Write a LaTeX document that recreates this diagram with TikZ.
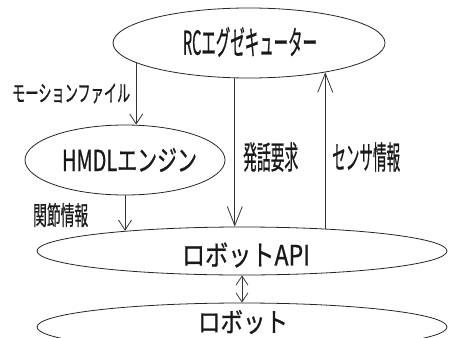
\documentclass[tikz,border=0pt]{standalone}
\usepackage{fontspec}
\usepackage{graphicx}
\newfontfamily\jp[FakeBold=0.8]{Noto Sans CJK JP}
\newcommand\fitw[3]{{\jp\fontsize{#2}{#2}\selectfont\resizebox{#1}{\height}{#3}}}
\usetikzlibrary{shapes.geometric,arrows.meta}
\begin{document}
\begin{tikzpicture}[x=1pt,y=-1pt,
  blob/.style={draw=black!85,line width=0.8pt,ellipse,inner sep=0pt},
  txt/.style={text=black!90,inner sep=0pt},
  lbl/.style={txt,anchor=west},
  big/.style={draw=black!80,line width=0.8pt,-{Straight Barb[length=19pt,width=15pt,line width=0.8pt]}},
  small/.style={draw=black!80,line width=0.8pt,-{Straight Barb[length=10pt,width=13pt,line width=0.8pt]}},
  dbl/.style={draw=black!80,line width=0.8pt,{Straight Barb[length=9pt,width=12pt,line width=0.8pt]}-{Straight Barb[length=9pt,width=12pt,line width=0.8pt]}}]
\useasboundingbox (0,0) rectangle (449,337);
\node[blob,minimum width=272pt,minimum height=70pt] (rc) at (249,43) {};
\node[txt] (rct) at (250,42) {\fitw{134pt}{33}{RCエグゼキューター}};
\node[blob,minimum width=200pt,minimum height=70pt] (hm) at (125,160) {};
\node[txt] (hmt) at (129.5,160) {\fitw{135pt}{29}{HMDLエンジン}};
\node[blob,minimum width=410pt,minimum height=48pt] (api) at (242,251) {};
\node[txt] (apit) at (246,255) {\fitw{128pt}{28}{ロボットAPI}};
\node[blob,minimum width=410pt,minimum height=48pt] (rb) at (242,327) {};
\node[txt] (rbt) at (243,322) {\fitw{90pt}{27}{ロボット}};
\draw[small] (rc.190.9) -- (rc.190.9 |- hm.north);
\draw[big] (rc.248.1) -- (rc.248.1 |- api.north);
\draw[big] (api.15.2) -- (api.15.2 |- rc.-21.7);
\draw[small] (hm.south) -- (hm.south |- api.170.4);
\draw[dbl] (api.south) -- (rb.north);
\node[lbl] (l1) at (12,93.5) {\fitw{118pt}{23}{モーションファイル}};
\node[lbl] (l2) at (243,157) {\fitw{55pt}{32}{発話要求}};
\node[lbl] (l3) at (332,157) {\fitw{68pt}{32}{センサ情報}};
\node[lbl] (l4) at (33,215) {\fitw{55pt}{26}{関節情報}};
\end{tikzpicture}
\end{document}
